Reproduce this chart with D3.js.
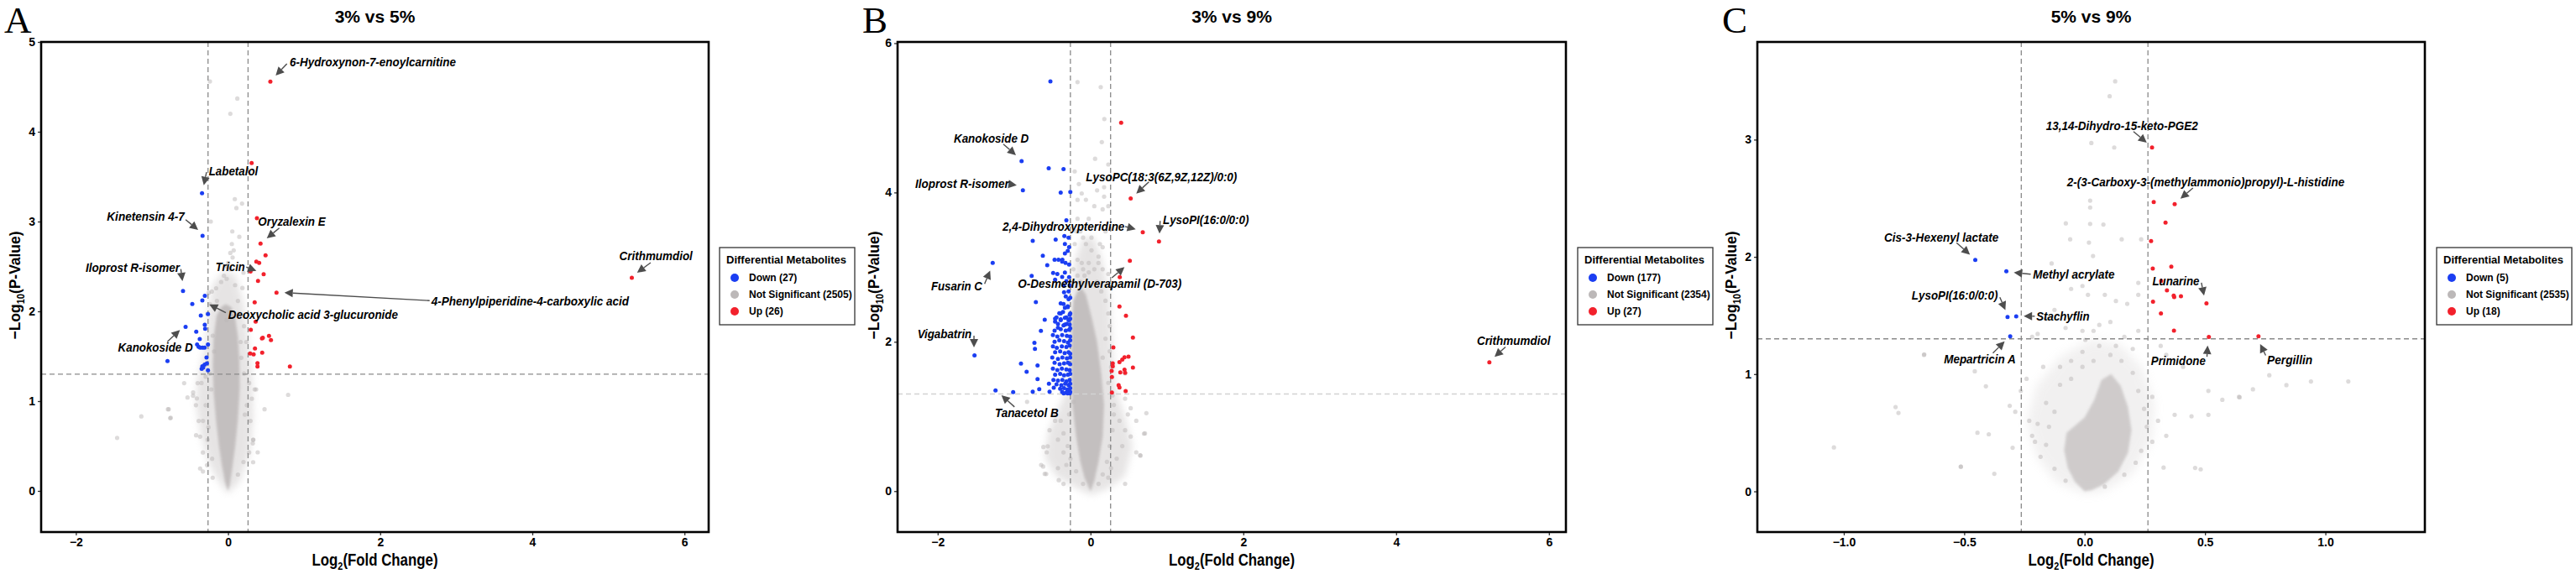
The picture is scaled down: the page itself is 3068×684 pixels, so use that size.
<!DOCTYPE html>
<html>
<head>
<meta charset="utf-8">
<script src="https://cdn.jsdelivr.net/npm/d3@7"></script>
<style>
  body { margin: 0; background: #fff; }
  text { font-family: "Liberation Sans", Arial, Helvetica, sans-serif; }
</style>
</head>
<body>
<svg id="chart"></svg>
<script>
// ---- data: [log2 fold change, -log10 p] ----
const categories = ["Down", "Not Significant", "Up"];
const titles = ["3% vs 5%", "3% vs 9%", "5% vs 9%"];
const panelLetters = ["A", "B", "C"];
const countsA = [27, 2505, 26];
const countsB = [177, 2354, 27];
const countsC = [5, 2535, 18];
const xTicksAB = [-2, 0, 2, 4, 6];
const xTicksC = [-1, -0.5, 0, 0.5, 1];
const yTicksA = [0, 1, 2, 3, 4, 5];
const yTicksB = [0, 2, 4, 6];
const yTicksC = [0, 1, 2, 3];
const fcCut = 0.263, pCut = 1.301;

const aDown = [[-0.342,3.315],[-0.335,2.841],[-0.592,2.227],[-0.305,2.173],[-0.338,2.121],[-0.470,2.081],[-0.264,1.969],[-0.358,1.953],[-0.306,1.850],[-0.301,1.807],[-0.558,1.828],[-0.418,1.773],[-0.372,1.692],[-0.407,1.631],[-0.387,1.606],[-0.367,1.596],[-0.336,1.595],[-0.308,1.595],[-0.264,1.630],[-0.796,1.446],[-0.283,1.486],[-0.278,1.421],[-0.308,1.407],[-0.338,1.388],[-0.347,1.360],[-0.264,1.344],[-0.327,1.374]];
const aUp = [[0.556,4.558],[0.310,3.651],[0.380,3.037],[0.427,2.754],[0.493,2.623],[0.372,2.554],[0.409,2.539],[0.295,2.444],[0.468,2.414],[0.394,2.339],[0.637,2.208],[0.350,2.100],[0.363,1.885],[0.299,1.794],[0.446,1.698],[0.457,1.706],[0.538,1.726],[0.564,1.679],[0.354,1.586],[0.449,1.539],[0.291,1.530],[0.336,1.521],[0.387,1.423],[0.387,1.386],[0.813,1.386],[5.308,2.374]];
const aCore = [[0,0],[-0.04,0.1],[-0.08,0.28],[-0.12,0.5],[-0.16,0.8],[-0.19,1.1],[-0.2,1.4],[-0.19,1.7],[-0.15,1.95],[-0.09,2.05],[-0.03,2.08],[0.04,2.05],[0.09,1.95],[0.13,1.72],[0.15,1.45],[0.155,1.15],[0.13,0.8],[0.095,0.5],[0.055,0.25],[0.025,0.08]];
const aHalo = [[0,-0.03],[-0.12,0.1],[-0.25,0.3],[-0.35,0.6],[-0.42,0.95],[-0.40,1.25],[-0.3,1.6],[-0.26,2.0],[-0.2,2.3],[-0.05,2.45],[0.1,2.4],[0.2,2.1],[0.26,1.7],[0.32,1.2],[0.33,0.8],[0.28,0.4],[0.15,0.1]];
const aNs = [[-0.238,4.56],[0.122,4.37],[0.03,4.20],[0.089,3.25],[0.184,3.20],[0.11,3.15],[-0.227,3.0],[0.148,2.83],[0.05,2.75],[0.03,2.65],[0.06,2.6],[-0.02,2.5],[-0.213,2.22],[0.203,2.43],[0.189,2.26],
  [-0.577,1.20],[-0.533,1.04],[-0.46,1.06],[-0.41,1.03],[-0.40,1.2],[-0.78,0.91],[-0.754,0.815],[-0.42,0.62],[-0.367,0.25],[0.35,1.13],[0.48,0.91],[0.79,1.07],[0.33,0.57],[0.33,0.32],[-1.14,0.83],[-1.458,0.59],[-0.79,0.91],[-0.76,0.81],[0.325,0.53],[0.39,0.43],
  [-0.238,2.081],[-0.268,1.975],[-0.157,2.257],[-0.091,2.327],[-0.018,2.362],[0.093,2.292],[0.130,2.116],[0.148,1.975],[0.210,1.835],[0.240,1.659],[0.174,1.483],[0.210,1.307],[0.277,1.202],[0.313,1.026],[0.369,1.131],[0.247,0.955],[0.295,0.780],[0.332,0.569],[0.277,0.428],[0.203,0.322],[0.130,0.182],[-0.202,0.147],[-0.275,0.287],[-0.330,0.428],[-0.367,0.604],[-0.386,0.780],[-0.422,0.955],[-0.459,1.096],[-0.349,1.202],[-0.294,1.272],[-0.238,1.307],[-0.220,1.131],[-0.294,0.955],[-0.330,0.780],[-0.268,0.569],[-0.209,0.358],[-0.257,0.709],[-0.330,0.217],[0.056,2.890],[0.001,2.538],[0.026,2.468],[-0.054,2.397],[0.074,2.679],[-0.018,1.905],[-0.146,2.116],[-0.202,1.729],[-0.183,1.553],[0.166,1.659],[0.221,0.850],[-0.255,2.206]];

const bDown = [[-0.525,5.488],[-0.902,4.421],[-0.547,4.325],[-0.353,4.312],[-0.885,4.028],[-0.390,3.999],[-0.264,4.008],[-0.316,3.627],[-1.280,3.056],[-1.518,1.817],[-1.243,1.348],[-1.012,1.327],[-0.756,3.352],[-0.456,3.369],[-0.624,3.153],[-0.566,3.027],[-0.770,2.883],[-0.715,2.531],[-0.599,2.295],[-0.649,2.147],[-0.734,1.986],[-0.727,1.906],[-0.910,1.708],[-0.693,1.682],[-0.836,1.598],[-0.693,1.500],[-0.756,1.331],[-0.671,1.365],[-0.544,1.440],[-0.481,1.386],[-0.536,1.331],
  [-0.342,3.416],[-0.287,3.394],[-0.335,3.310],[-0.280,3.267],[-0.298,3.217],[-0.335,3.183],[-0.368,3.099],[-0.470,3.099],[-0.419,3.099],[-0.280,3.035],[-0.335,2.929],[-0.489,2.921],[-0.434,2.908],[-0.280,2.866],
  [-0.371,3.075],[-0.327,3.057],[-0.371,2.870],[-0.463,2.833],[-0.316,2.813],[-0.353,2.757],[-0.273,2.757],[-0.346,2.664],[-0.324,2.608],[-0.287,2.570],
  [-0.287,2.676],[-0.265,2.591],[-0.353,2.507],[-0.298,2.464],[-0.390,2.380],[-0.265,2.380],[-0.280,2.295],[-0.335,2.232],[-0.426,2.190],
  [-0.390,2.514],[-0.335,2.457],[-0.298,2.476],[-0.360,2.401],[-0.408,2.383],[-0.445,2.327],[-0.463,2.271],[-0.390,2.289],[-0.316,2.327],[-0.273,2.364],
  [-0.463,2.31],[-0.390,2.30],[-0.335,2.32],[-0.287,2.29],[-0.266,2.31],
  [-0.426,2.24],[-0.353,2.22],[-0.309,2.24],[-0.273,2.23],
  [-0.470,2.15],[-0.390,2.17],[-0.324,2.15],[-0.280,2.16],[-0.266,2.18],
  [-0.492,2.09],[-0.434,2.07],[-0.371,2.09],[-0.309,2.08],[-0.267,2.07],
  [-0.470,2.00],[-0.408,2.02],[-0.346,2.01],[-0.295,1.99],[-0.266,2.02],
  [-0.492,1.94],[-0.441,1.92],[-0.375,1.94],[-0.316,1.93],[-0.273,1.95],
  [-0.463,1.86],[-0.397,1.87],[-0.338,1.85],[-0.287,1.86],[-0.266,1.84],
  [-0.500,1.79],[-0.426,1.77],[-0.368,1.79],[-0.309,1.78],[-0.266,1.79],
  [-0.470,1.72],[-0.404,1.70],[-0.346,1.71],[-0.295,1.72],[-0.267,1.70],
  [-0.492,1.64],[-0.434,1.62],[-0.375,1.64],[-0.316,1.63],[-0.273,1.62],
  [-0.463,1.56],[-0.397,1.57],[-0.346,1.55],[-0.295,1.56],[-0.266,1.57],
  [-0.485,1.49],[-0.426,1.48],[-0.368,1.49],[-0.316,1.47],[-0.273,1.49],
  [-0.445,1.43],[-0.382,1.42],[-0.331,1.44],[-0.287,1.42],[-0.266,1.44],
  [-0.397,1.37],[-0.346,1.38],[-0.302,1.36],[-0.266,1.38],
  [-0.371,1.33],[-0.316,1.32],[-0.280,1.34],[-0.266,1.33],
  [-0.350,1.31],[-0.300,1.31],[-0.272,1.31]];
const bUp = [[0.401,4.934],[0.526,3.919],[0.684,3.466],[0.896,3.344],[0.515,3.085],[0.383,2.866],[0.379,2.473],[0.464,2.349],[0.555,2.058],[0.299,1.924],[0.497,1.800],[0.445,1.792],[0.416,1.763],[0.379,1.728],[0.291,1.711],[0.291,1.673],[0.555,1.656],[0.445,1.627],[0.453,1.584],[0.390,1.589],[0.277,1.610],[0.280,1.529],[0.368,1.420],[0.379,1.387],[0.460,1.339],[0.280,1.322],[5.22,1.726]];
const bCore = [[0,0],[-0.078,0.181],[-0.133,0.393],[-0.188,0.731],[-0.236,1.154],[-0.251,1.788],[-0.244,2.211],[-0.225,2.549],[-0.17,2.676],[-0.115,2.718],[-0.06,2.634],[0.013,2.338],[0.086,2.0],[0.141,1.577],[0.178,1.154],[0.16,0.731],[0.105,0.393],[0.05,0.139]];
const bHalo = [[0,-0.05],[-0.2,0.05],[-0.45,0.2],[-0.6,0.45],[-0.55,0.8],[-0.42,1.1],[-0.3,1.4],[-0.28,2.0],[-0.26,2.6],[-0.2,3.1],[-0.1,3.4],[0.05,3.4],[0.15,3.1],[0.25,2.6],[0.28,2.0],[0.32,1.4],[0.45,1.0],[0.55,0.6],[0.45,0.2],[0.2,0.02]];
const bNs = [[-0.170,5.478],[0.134,5.411],[0.181,4.984],[0.148,4.675],[0.060,4.452],[0.233,4.375],[-0.207,4.282],
  [-0.152,4.113],[-0.115,3.987],[-0.170,3.901],[0.178,4.071],[0.178,3.944],[0.233,3.817],[0.159,3.775],[-0.170,3.648],[-0.133,3.479],[-0.060,3.310],[0.013,3.225],[0.159,3.267],[0.196,3.479],[0.104,3.056],[0.159,2.972],[0.233,2.908],[-0.023,3.056],[-0.097,2.972],[-0.170,3.099],[-0.225,2.802],
  [-0.617,0.591],[-0.599,0.231],[-0.415,0.147],[0.654,0.476],[0.713,0.773],[0.731,1.044],[-0.830,1.196],[-0.481,1.027],[-0.536,0.816],[-0.426,0.689],[-0.353,0.519],[-0.316,0.351],[0.306,1.154],[0.379,0.942],[0.453,0.816],[0.416,0.603],[0.343,0.435],[0.269,0.308],[0.233,0.181],[0.453,1.238],[0.526,1.111],[0.70,0.77],[-0.62,0.33],[-0.58,0.23],[0.65,0.48],[-0.56,0.6],
  [0.086,2.803],[0.141,2.676],[0.196,2.549],[0.233,2.380],[0.251,2.211],[0.196,2.042],[0.251,1.873],[0.270,1.661],[0.233,1.450],[0.288,1.281],[0.306,1.027],[0.288,0.816],[0.251,0.604],[0.215,0.393],[0.160,0.224],[0.105,0.097],[-0.097,0.097],[-0.188,0.266],[-0.262,0.435],[-0.298,0.604],[-0.353,0.773],[-0.390,0.942],[-0.280,1.027],[-0.225,1.196],[-0.133,2.803],[-0.078,2.887],[-0.170,2.887],[-0.115,3.056],[-0.023,2.930],[0.050,2.972],[0.105,3.141],[0.123,3.310],[0.013,3.395],[-0.097,3.395],[-0.023,3.648],[0.050,3.817],[-0.060,3.902],[0.086,4.029],[-0.207,3.310],[-0.188,3.479],[-0.225,2.972],[0.160,1.788],[0.453,1.577],[0.489,1.027],[0.526,0.731],[0.599,0.520],[-0.463,0.942],[-0.573,0.520],[-0.646,0.351],[-0.426,0.308],[-0.353,0.097],[0.453,0.097],[0.599,0.942]];

const cDown = [[-0.454,1.974],[-0.325,1.877],[-0.320,1.488],[-0.284,1.493],[-0.309,1.322]];
const cUp = [[0.280,2.933],[0.287,2.467],[0.374,2.450],[0.336,2.293],[0.276,2.135],[0.283,1.900],[0.360,1.916],[0.342,1.714],[0.370,1.670],[0.372,1.658],[0.400,1.665],[0.506,1.603],[0.284,1.618],[0.317,1.517],[0.371,1.371],[0.516,1.317],[0.722,1.322],[0.318,1.795]];
const cCore = [[0,0],[-0.04,0.08],[-0.07,0.2],[-0.085,0.35],[-0.075,0.5],[-0.04,0.56],[0.0,0.63],[0.04,0.78],[0.07,0.95],[0.11,1.0],[0.15,0.9],[0.18,0.72],[0.195,0.52],[0.18,0.33],[0.14,0.17],[0.08,0.06],[0.03,0.01]];
const cHalo = [[0,-0.02],[-0.12,0.08],[-0.2,0.3],[-0.24,0.6],[-0.2,0.9],[-0.1,1.15],[0.03,1.3],[0.15,1.25],[0.24,1.05],[0.29,0.75],[0.28,0.45],[0.2,0.15],[0.08,0.0]];
const cNs = [[0.127,3.497],[0.104,3.370],[0.028,2.971],[0.123,2.933],[0.023,2.480],[0.023,2.421],[-0.078,2.286],[0.023,2.281],[0.078,2.276],[-0.060,2.150],[0.018,2.122],[0.154,2.150],[0.235,2.150],[0.035,2.007],
  [-0.137,1.944],[-0.056,1.727],[-0.009,1.752],[0.014,1.676],[0.084,1.676],[0.130,1.624],[0.223,1.778],[0.223,1.676],[0.177,1.599],[-0.125,1.548],[-0.160,1.471],[-0.079,1.394],[-0.009,1.369],[0.061,1.420],[0.107,1.445],[0.165,1.318],[0.223,1.369],[-0.195,1.343],[-0.218,1.318],[0.003,1.292],[0.200,1.215],[0.316,1.241],[0.339,1.164],[0.409,1.062],[0.514,0.857],[0.572,0.781],[0.641,0.806],[0.699,0.870],[0.514,0.653],[0.374,0.653],[0.444,0.640],[-0.667,1.164],[-0.456,1.024],[-0.410,0.896],[-0.311,0.730],[-0.288,0.679],[-0.514,0.211],[-0.375,0.150],[-0.445,0.500],[-0.398,0.487],[-0.299,0.372],[-0.241,0.960],[-0.195,0.576],[-0.218,0.474],[-0.172,1.062],[-0.265,0.857],
  [-1.041,0.375],[-0.785,0.719],[-0.773,0.669],[-0.666,1.168],[-0.514,0.21],[1.095,0.937],[0.940,0.937],[0.838,0.906],[0.767,0.990],[0.644,0.802],[0.459,0.2],[0.482,0.188],[0.328,0.203],
  [-0.183,0.295],[-0.160,0.397],[-0.148,0.551],[-0.125,0.679],[-0.160,0.755],[-0.102,0.909],[-0.056,0.960],[-0.009,1.062],[0.037,1.113],[0.107,1.164],[0.153,1.113],[0.200,1.011],[0.223,0.857],[0.247,0.704],[0.258,0.551],[0.235,0.346],[0.212,0.244],[0.165,0.142],[0.084,0.040],[-0.079,0.091],[-0.125,0.193],[-0.206,0.423],[-0.230,0.602],[0.281,0.806],[0.305,0.602],[0.339,0.474],[0.281,0.423],[-0.009,1.190],[-0.056,1.113],[-0.102,1.062],[0.061,1.241],[0.130,1.241],[0.037,1.369]];

const aNoteNames = ["6-Hydroxynon-7-enoylcarnitine","Labetalol","Kinetensin 4-7","Oryzalexin E","Iloprost R-isomer","Tricin","4-Phenylpiperidine-4-carboxylic acid","Deoxycholic acid 3-glucuronide","Kanokoside D","Crithmumdiol"];
const bNoteNames = ["Kanokoside D","Iloprost R-isomer","LysoPC(18:3(6Z,9Z,12Z)/0:0)","2,4-Dihydroxypteridine","LysoPI(16:0/0:0)","Fusarin C","O-Desmethylverapamil (D-703)","Vigabatrin","Tanacetol B","Crithmumdiol"];
const cNoteNames = ["13,14-Dihydro-15-keto-PGE2","2-(3-Carboxy-3-(methylammonio)propyl)-L-histidine","Cis-3-Hexenyl lactate","Methyl acrylate","LysoPI(16:0/0:0)","Stachyflin","Lunarine","Mepartricin A","Primidone","Pergillin"];

// ---- layout (label centre, arrow start, arrow tip in data units; text width px) ----
const aNoteLayout = [[1.903,4.776,0.774,4.757,0.626,4.626,198],[0.071,3.561,-0.283,3.551,-0.319,3.405,58.6],[-1.082,3.056,-0.558,3.021,-0.393,2.907,92.4],[0.838,3.0,0.674,2.928,0.509,2.813,80.4],[-1.254,2.486,-0.621,2.470,-0.599,2.336,112],[0.029,2.495,0.240,2.493,0.372,2.451,35],[3.971,2.116,2.650,2.119,0.741,2.208,235.3],[1.118,1.963,-0.029,1.984,-0.246,2.078,202.3],[-0.955,1.594,-0.798,1.661,-0.632,1.792,89],[5.625,2.621,5.556,2.542,5.377,2.430,87.2]];
const bNoteLayout = [[-1.298,4.720,-1.141,4.648,-0.976,4.499,89.3],[-1.680,4.113,-1.067,4.113,-0.965,4.098,111.7],[0.929,4.210,0.764,4.143,0.599,3.985,180],[-0.353,3.544,0.453,3.544,0.592,3.507,145.3],[1.510,3.630,0.911,3.619,0.903,3.451,102.3],[-1.751,2.749,-1.386,2.776,-1.313,2.952,61],[0.121,2.776,0.280,2.858,0.445,3.001,195],[-1.910,2.109,-1.525,2.083,-1.525,1.926,64.6],[-0.835,1.053,-0.995,1.128,-1.166,1.285,75.7],[5.537,2.019,5.431,1.931,5.288,1.799,87.5]];
const cNoteLayout = [[0.155,3.117,0.203,3.069,0.258,2.974,181],[0.503,2.639,0.450,2.587,0.398,2.496,330.3],[-0.595,2.167,-0.532,2.120,-0.476,2.019,136.2],[-0.045,1.852,-0.224,1.852,-0.294,1.866,97.3],[-0.539,1.669,-0.352,1.656,-0.329,1.547,102.6],[-0.090,1.494,-0.207,1.494,-0.253,1.494,63.3],[0.379,1.792,0.485,1.780,0.496,1.669,56],[-0.435,1.125,-0.381,1.179,-0.332,1.279,85.7],[0.389,1.117,0.508,1.148,0.511,1.243,65],[0.852,1.121,0.752,1.160,0.729,1.256,54]];

const layouts = [
  {left:49, right:844, top:50, bottom:634, xDomain:[-2.457,6.318], yDomain:[-0.458,5.0], letterX:5, yLabelX:17, legendX:857, coreOpacity:0.95, haloOpacity:0.4, haloBlur:4, hDash:"#8a8a8a"},
  {left:1069, right:1865, top:50, bottom:634, xDomain:[-2.525,6.222], yDomain:[-0.548,6.016], letterX:1027, yLabelX:1040, legendX:1879, coreOpacity:0.95, haloOpacity:0.4, haloBlur:4, hDash:"#d2d2d2"},
  {left:2093, right:2888, top:50, bottom:634, xDomain:[-1.359,1.413], yDomain:[-0.347,3.833], letterX:2051, yLabelX:2061, legendX:2902, coreOpacity:0.72, haloOpacity:0.22, haloBlur:6, hDash:"#8a8a8a"}
];

const panels = [
  {down:aDown, up:aUp, ns:aNs, core:aCore, halo:aHalo, counts:countsA, xTicks:xTicksAB, yTicks:yTicksA, xFmt:d3.format("d"), notes:aNoteNames, noteLayout:aNoteLayout},
  {down:bDown, up:bUp, ns:bNs, core:bCore, halo:bHalo, counts:countsB, xTicks:xTicksAB, yTicks:yTicksB, xFmt:d3.format("d"), notes:bNoteNames, noteLayout:bNoteLayout},
  {down:cDown, up:cUp, ns:cNs, core:cCore, halo:cHalo, counts:countsC, xTicks:xTicksC, yTicks:yTicksC, xFmt:d3.format(".1f"), notes:cNoteNames, noteLayout:cNoteLayout}
];

const COL = {down:"#1b3ef2", ns:"#c2bebe", up:"#f2212c"};
const ARROW = "#4d4d4d";

const svg = d3.select("#chart").attr("width", 3068).attr("height", 684);
svg.append("rect").attr("width", 3068).attr("height", 684).attr("fill", "#fff");
const defs = svg.append("defs");
layouts.forEach((L, i) => {
  defs.append("filter").attr("id", "softHalo" + i).attr("x", "-30%").attr("y", "-30%").attr("width", "160%").attr("height", "160%")
    .append("feGaussianBlur").attr("stdDeviation", L.haloBlur);
});
defs.append("filter").attr("id", "softCore").attr("x", "-20%").attr("y", "-20%").attr("width", "140%").attr("height", "140%")
  .append("feGaussianBlur").attr("stdDeviation", 1.6);

function arrow(g, x1, y1, x2, y2) {
  const dx = x2 - x1, dy = y2 - y1, len = Math.hypot(dx, dy) || 1;
  const ux = dx / len, uy = dy / len, hl = 10, hw = 5;
  const bx = x2 - ux * hl, by = y2 - uy * hl;
  if (len > hl) g.append("line").attr("x1", x1).attr("y1", y1).attr("x2", bx).attr("y2", by)
    .attr("stroke", ARROW).attr("stroke-width", 1.4);
  g.append("path").attr("fill", ARROW)
    .attr("d", `M${x2},${y2}L${bx - uy * hw},${by + ux * hw}L${bx + uy * hw},${by - ux * hw}Z`);
}

panels.forEach((p, i) => {
  const L = layouts[i];
  const x = d3.scaleLinear().domain(L.xDomain).range([L.left, L.right]);
  const y = d3.scaleLinear().domain(L.yDomain).range([L.bottom, L.top]);
  const g = svg.append("g");
  const cx = (L.left + L.right) / 2, cy = (L.top + L.bottom) / 2;
  const shape = d3.line().x(d => x(d[0])).y(d => y(d[1])).curve(d3.curveLinearClosed);

  svg.append("clipPath").attr("id", "clip" + i).append("rect")
    .attr("x", L.left).attr("y", L.top).attr("width", L.right - L.left).attr("height", L.bottom - L.top);
  const plot = g.append("g").attr("clip-path", `url(#clip${i})`);

  // non-significant cloud: diffuse halo, dense core, scattered points
  plot.append("path").datum(p.halo).attr("d", shape)
    .attr("fill", COL.ns).attr("opacity", L.haloOpacity).attr("filter", `url(#softHalo${i})`);
  plot.append("path").datum(p.core).attr("d", shape)
    .attr("fill", COL.ns).attr("opacity", L.coreOpacity).attr("filter", "url(#softCore)");
  plot.selectAll("circle.ns").data(p.ns).join("circle").attr("class", "ns")
    .attr("cx", d => x(d[0])).attr("cy", d => y(d[1])).attr("r", 2.6)
    .attr("fill", "#bcb8b8").attr("fill-opacity", 0.5);

  // thresholds
  [-fcCut, fcCut].forEach(v => plot.append("line")
    .attr("x1", x(v)).attr("x2", x(v)).attr("y1", L.top).attr("y2", L.bottom)
    .attr("stroke", "#8a8a8a").attr("stroke-width", 1.3).attr("stroke-dasharray", "6,4"));
  plot.append("line").attr("x1", L.left).attr("x2", L.right).attr("y1", y(pCut)).attr("y2", y(pCut))
    .attr("stroke", L.hDash).attr("stroke-width", 1.3).attr("stroke-dasharray", "6,4");

  plot.selectAll("circle.dn").data(p.down).join("circle").attr("class", "dn")
    .attr("cx", d => x(d[0])).attr("cy", d => y(d[1])).attr("r", 2.5).attr("fill", COL.down);
  plot.selectAll("circle.up").data(p.up).join("circle").attr("class", "up")
    .attr("cx", d => x(d[0])).attr("cy", d => y(d[1])).attr("r", 2.5).attr("fill", COL.up);

  // axes
  const styleAxis = a => {
    a.select(".domain").remove();
    a.selectAll("line").attr("stroke", "#333").attr("stroke-width", 1.3);
    a.selectAll("text").attr("font-size", 14).attr("font-weight", "bold").attr("fill", "#000");
  };
  g.append("g").attr("transform", `translate(0,${L.bottom})`)
    .call(d3.axisBottom(x).tickValues(p.xTicks).tickFormat(p.xFmt).tickSize(4).tickPadding(3)).call(styleAxis);
  g.append("g").attr("transform", `translate(${L.left},0)`)
    .call(d3.axisLeft(y).tickValues(p.yTicks).tickFormat(d3.format("d")).tickSize(4).tickPadding(3)).call(styleAxis);

  g.append("rect").attr("x", L.left).attr("y", L.top)
    .attr("width", L.right - L.left).attr("height", L.bottom - L.top)
    .attr("fill", "none").attr("stroke", "#000").attr("stroke-width", 2.6);

  // annotations
  const ann = g.append("g");
  p.notes.forEach((name, k) => {
    const [lx, ly, sx, sy, ex, ey, w] = p.noteLayout[k];
    arrow(ann, x(sx), y(sy), x(ex), y(ey));
    ann.append("text").attr("x", x(lx)).attr("y", y(ly)).attr("dy", "0.36em")
      .attr("text-anchor", "middle").attr("font-size", 14).attr("font-weight", "bold")
      .attr("font-style", "italic").attr("fill", "#000")
      .attr("textLength", w).attr("lengthAdjust", "spacingAndGlyphs").text(name);
  });

  // titles and labels
  g.append("text").attr("x", cx).attr("y", 27).attr("text-anchor", "middle")
    .attr("font-size", 21).attr("font-weight", "bold").text(titles[i]);
  g.append("text").attr("x", L.letterX).attr("y", 39).attr("font-size", 45)
    .style("font-family", '"Liberation Serif", "Times New Roman", serif').text(panelLetters[i]);

  const xl = g.append("text").attr("x", cx).attr("y", 667).attr("dy", "0.35em")
    .attr("text-anchor", "middle").attr("font-size", 20).attr("font-weight", "bold")
    .attr("textLength", 150).attr("lengthAdjust", "spacingAndGlyphs");
  xl.append("tspan").text("Log");
  xl.append("tspan").attr("font-size", 13).attr("dy", 5).text("2");
  xl.append("tspan").attr("dy", -5).text("(Fold Change)");

  const yl = g.append("text").attr("transform", `translate(${L.yLabelX},${cy - 2}) rotate(-90)`)
    .attr("dy", "0.35em").attr("text-anchor", "middle").attr("font-size", 19).attr("font-weight", "bold")
    .attr("textLength", 129).attr("lengthAdjust", "spacingAndGlyphs");
  yl.append("tspan").text("\u2212Log");
  yl.append("tspan").attr("font-size", 12).attr("dy", 5).text("10");
  yl.append("tspan").attr("dy", -5).text("(P-Value)");

  // legend
  const lg = g.append("g").attr("transform", `translate(${L.legendX},295)`);
  lg.append("rect").attr("width", 161).attr("height", 92).attr("fill", "#fff")
    .attr("stroke", "#333").attr("stroke-width", 1.3);
  lg.append("text").attr("x", 8).attr("y", 14).attr("dy", "0.35em")
    .attr("font-size", 13).attr("font-weight", "bold").text("Differential Metabolites");
  const cols = [COL.down, "#bcb8b8", COL.up];
  categories.forEach((c, k) => {
    lg.append("circle").attr("cx", 18).attr("cy", 36 + k * 20).attr("r", 5).attr("fill", cols[k]);
    lg.append("text").attr("x", 35).attr("y", 36 + k * 20).attr("dy", "0.35em")
      .attr("font-size", 12).attr("font-weight", "bold").text(`${c} (${p.counts[k]})`);
  });
});
</script>
</body>
</html>
